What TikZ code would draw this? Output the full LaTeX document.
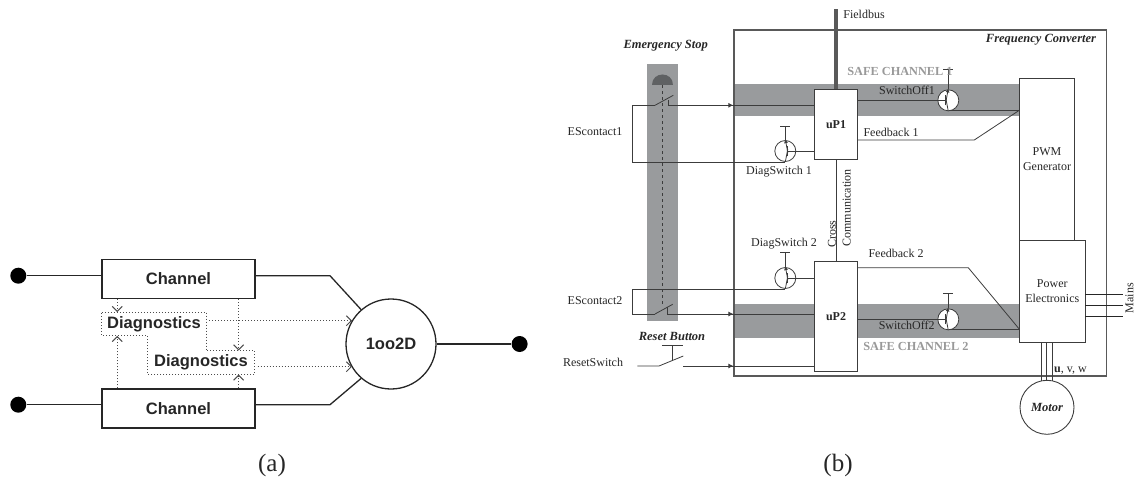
\documentclass[tikz,border=0pt]{standalone}
\usepackage{fontspec}
\setmainfont{Liberation Serif}
\newfontfamily\armfont{Liberation Sans}
\usetikzlibrary{positioning,arrows.meta}

\definecolor{bandgrey}{HTML}{999B9D}
\definecolor{linegrey}{HTML}{3C3C3C}
\definecolor{domegrey}{HTML}{5F6163}

\tikzset{
  every node/.style={font=\fontsize{12}{14}\selectfont, text=black!85, inner sep=0pt},
  wire/.style={draw=linegrey, line width=0.8pt},
  wiretip/.style={wire, -{Latex[length=5pt,width=5pt]}},
  blockbox/.style={draw=linegrey, line width=0.9pt, fill=white},
  chanbox/.style={draw=black!85, line width=1.3pt, minimum width=153pt, minimum height=39pt, font=\armfont\bfseries\fontsize{16.5}{18}\selectfont},
  diagbox/.style={font=\armfont\bfseries\fontsize{16.5}{18}\selectfont},
  solid1/.style={draw=black!85, line width=1.3pt},
  diagline/.style={draw=black!70, line width=1pt, dotted},
  diagarrow/.style={diagline, -{Straight Barb[length=5pt,width=10pt]}},
  terminal/.style={circle, fill=black, minimum size=16pt},
  title/.style={font=\bfseries\itshape\fontsize{12.5}{14}\selectfont},
  safelabel/.style={font=\bfseries\fontsize{12.3}{14}\selectfont, text=black!40},
  caption/.style={font=\fontsize{25}{28}\selectfont}
}

% transistor: name, x, y, y of the top bar, side of the base
\newcommand{\qswitch}[5]{
  \node[circle, draw=linegrey, line width=0.8pt, fill=white, minimum size=21pt] (#1) at (#2,#3) {};
  \coordinate (#1bar) at (#2,#4);
  \coordinate (#1b) at (#2+2.5*#5,#3);
  \draw[wire] ([xshift=-5pt]#1bar) -- ([xshift=5pt]#1bar);
  \draw[wire] (#1bar) -- (#1.north);
  \draw[wire] ([yshift=-5pt]#1b) -- ([yshift=5pt]#1b);
  \draw[wire, {Latex[length=4pt,width=4pt]}-] ([yshift=1pt]#1.north) -- ([yshift=-2pt]#1b);
  \draw[wire] ([yshift=2pt]#1b) -- (#1.south);
}

\begin{document}
\begin{tikzpicture}[x=1pt, y=-1pt]
\useasboundingbox (0,0) rectangle (1136,490);

% (a)
\node[terminal] (in1) at (18.3,275.7) {};
\node[terminal] (in2) at (18.3,404.7) {};
\node[terminal] (out) at (519.6,344) {};
\node[chanbox] (ch1) at (178.5,279) {Channel};
\node[chanbox] (ch2) at (178.5,408.5) {Channel};
\node[circle, solid1, minimum size=90pt, font=\armfont\bfseries\fontsize{16.5}{18}\selectfont] (vote) at (391,344) {1oo2D};
\node[diagbox, minimum width=104pt, minimum height=23.4pt] (dg1) at (154,324) {Diagnostics};
\node[diagbox, minimum width=107pt, minimum height=23.6pt] (dg2) at (201,362.5) {Diagnostics};
\coordinate (bend1) at (330,275.7);
\coordinate (bend2) at (330,404.7);
\coordinate (x1) at (117.2,0);
\coordinate (x2) at (238.6,0);
\coordinate (t1) at (352,320.7);
\coordinate (t2) at (352,366.7);
\draw[solid1] (in1) -- (in1 -| ch1.west);
\draw[solid1] (in2) -- (in2 -| ch2.west);
\draw[solid1] (bend1 -| ch1.east) -- (bend1) -- (vote.131);
\draw[solid1] (bend2 -| ch2.east) -- (bend2) -- (vote.229);
\draw[solid1] (vote.east) -- (out);
\draw[diagline] (dg1.north west) -- (dg1.north east) -- (dg1.east |- dg2.north) -- (dg2.north east) -- (dg2.south east) -- (dg2.south west) -- (dg2.west |- dg1.south) -- (dg1.south west) -- cycle;
\draw[diagarrow] (x1 |- ch1.south) -- (x1 |- dg1.north);
\draw[diagarrow] (x2 |- ch1.south) -- (x2 |- dg2.north);
\draw[diagarrow] (x1 |- ch2.north) -- (x1 |- dg1.south);
\draw[diagarrow] (x2 |- ch2.north) -- (x2 |- dg2.south);
\draw[diagarrow] ([xshift=3pt]dg1.east |- t1) -- (t1);
\draw[diagarrow] ([xshift=3pt]dg2.east |- t2) -- (t2);
\node[caption] (capa) at (272,465) {(a)};

% (b)
\fill[bandgrey] (647,64.3) rectangle (678.3,321);
\fill[bandgrey] (734,84) rectangle (1020,115.7);
\fill[bandgrey] (734,304.3) rectangle (1020,338.3);
\fill[domegrey] (652,85) .. controls (652,71) and (673,71) .. (673,85) -- cycle;
\draw[draw=linegrey, line width=0.6pt, dashed] (662.7,85) -- (662.7,305);
\node[draw=black!65, line width=1.2pt, minimum width=372.7pt, minimum height=346pt] (conv) at (920.3,203) {};

\node[blockbox, minimum width=42.6pt, minimum height=70pt, font=\bfseries\fontsize{12}{14}\selectfont] (up1) at (836,124.3) {uP1};
\node[blockbox, minimum width=42.6pt, minimum height=109.3pt, font=\bfseries\fontsize{12}{14}\selectfont] (up2) at (836,316.3) {uP2};
\node[blockbox, minimum width=54.6pt, minimum height=161.7pt, align=center] (pwm) at (1047,159.2) {PWM\\[1pt]Generator};
\node[blockbox, minimum width=65.3pt, minimum height=102.7pt, align=center] (pe) at (1052.3,291.4) {Power\\[1pt]Electronics};
\node[circle, draw=linegrey, line width=0.9pt, minimum size=54pt, title] (motor) at (1047,407.3) {Motor};

\coordinate (fb) at (836,9);
\draw[draw=black!65, line width=3.2pt] (fb) -- (up1.north);
\draw[wire] (up1.south) -- (up2.north);

% emergency stop contacts
\coordinate (c1a) at (632.7,105.3);
\coordinate (c1b) at (655,105.3);
\coordinate (c1c) at (673.3,95.3);
\coordinate (c1d) at (668.3,100);
\coordinate (c1e) at (668.3,105.3);
\coordinate (c2a) at (632.7,314);
\coordinate (c2b) at (655,314);
\coordinate (c2c) at (672.7,304.3);
\coordinate (c2d) at (667.3,306.7);
\coordinate (c2e) at (667.3,314);
\coordinate (r1) at (637.3,366);
\coordinate (r2) at (659,366);
\coordinate (r3) at (683.3,356);
\coordinate (r4) at (683.3,366);
\coordinate (rtop) at (672.3,345.7);

\qswitch{ds1}{785.3}{151}{126}{1}
\qswitch{ds2}{785.3}{278}{252.7}{1}
\qswitch{so1}{948.3}{100.3}{69}{-1}
\qswitch{so2}{948.3}{319.3}{293.3}{-1}

\draw[wire] (c1b) -- (c1a) |- (ds1.south);
\draw[wire] (c1b) -- (c1c);
\draw[wire] (c1d) -- (c1e) -- (c1e -| up1.west);
\draw[wiretip] (c1e) -- (c1e -| conv.west);
\draw[wire] (c2b) -- (c2a) |- (ds2.south);
\draw[wire] (c2b) -- (c2c);
\draw[wire] (c2d) -- (c2e) -- (c2e -| up2.west);
\draw[wiretip] (c2e) -- (c2e -| conv.west);
\draw[wire] (r1) -- (r2) -- (r3);
\draw[wire] (r4) -- (r4 -| up2.west);
\draw[wiretip] (r4) -- (r4 -| conv.west);
\draw[wire] ([xshift=-10.5pt]rtop) -- ([xshift=11pt]rtop);
\draw[wire] (rtop) -- ++(0,14.5);

\draw[wire] (ds1b) -- (ds1b -| up1.west);
\draw[wire] (ds2b) -- (ds2b -| up2.west);
\draw[wire] (so1b) -- (so1b -| up1.east);
\draw[wire] (so2b) -- (so2b -| up2.east);
\coordinate (s1r) at (950,110.3);
\coordinate (s2r) at (950,329);
\draw[wire] (s1r) -- (s1r -| pwm.west);
\draw[wire] (s2r) -- (s2r -| pe.west);

\coordinate (f1) at (974.3,140);
\coordinate (f2) at (968.3,267.7);
\draw[wire] (f1 -| up1.east) -- (f1) -- (s1r -| pwm.west);
\draw[wire] (f2 -| up2.east) -- (f2) -- (s2r -| pe.west);

\coordinate (mu) at (1041.3,380.7);
\coordinate (mv) at (1046.7,380.7);
\coordinate (mw) at (1052.3,380.7);
\draw[wire] (mu |- pe.south) -- (mu);
\draw[wire] (mv |- pe.south) -- (mv);
\draw[wire] (mw |- pe.south) -- (mw);
\coordinate (ml) at (1122.7,294.3);
\coordinate (mm) at (1122.7,305);
\coordinate (mn) at (1122.7,316);
\draw[wire, draw=black!85] (ml -| pe.east) -- (ml);
\draw[wire, draw=black!85] (mm -| pe.east) -- (mm);
\draw[wire, draw=black!85] (mn -| pe.east) -- (mn);

\node (lfb) at (864,14) {Fieldbus};
\node[title] (lfc) at (1041,40) {Frequency Converter};
\node[title] (les) at (665.7,45.7) {Emergency Stop};
\node[title] (lrb) at (672,336.7) {Reset Button};
\node[safelabel] (lsc1) at (900,71.7) {SAFE CHANNEL 1};
\node[safelabel] (lsc2) at (916,346.7) {SAFE CHANNEL 2};
\node (lso1) at (907,90.7) {SwitchOff1};
\node (lso2) at (906.7,325) {SwitchOff2};
\node (lfb1) at (891,132) {Feedback 1};
\node (lfb2) at (896,253.7) {Feedback 2};
\node (lds1) at (779,172) {DiagSwitch 1};
\node (lds2) at (784,243.7) {DiagSwitch 2};
\node (les1) at (595,131.7) {EScontact1};
\node (les2) at (595,300.3) {EScontact2};
\node (lrs) at (593,362.7) {ResetSwitch};
\node[rotate=90] (lcr) at (832,234) {Cross};
\node[rotate=90] (lcm) at (846.7,208) {Communication};
\node[rotate=90] (lmn) at (1129.5,298) {Mains};
\node (luvw) at (1070.5,370.7) {{\bfseries u}, v, w};
\node[caption] (capb) at (838,465) {(b)};
\end{tikzpicture}
\end{document}
